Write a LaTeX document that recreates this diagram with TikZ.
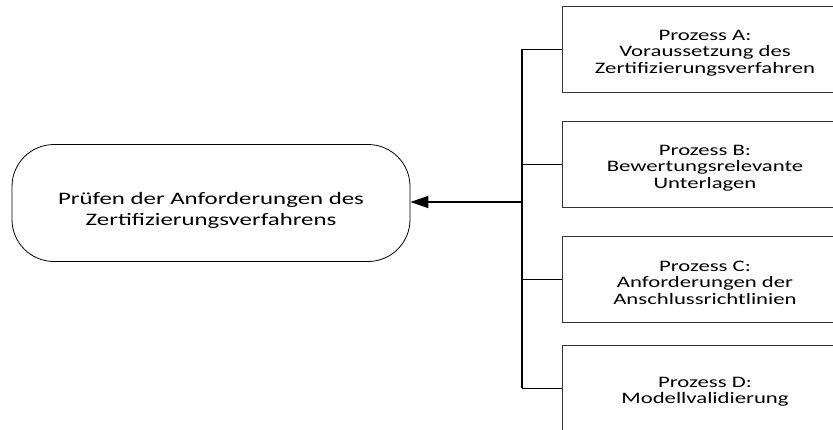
\documentclass[tikz,border=0pt]{standalone}
\usepackage{fontspec}
\setmainfont{Carlito}[FakeStretch=1.42]
\usetikzlibrary{positioning,arrows.meta}
% Strut in der ersten Zeile, schiebt den Text etwas nach unten
\newcommand{\tiefer}[1]{\rule{0pt}{#1}}
\tikzset{prozess/.style={draw=black!80,line width=0.8pt,minimum width=286pt,minimum height=86pt,
           align=center,font=\fontsize{16}{16.5}\selectfont},
         ziel/.style={draw,line width=0.8pt,rounded corners=42pt,minimum width=398pt,
           minimum height=117pt,align=center,font=\fontsize{17.5}{21.5}\selectfont}}

\begin{document}
\begin{tikzpicture}[x=1pt,y=-1pt]
\clip (0,0) rectangle (833,429);
\node[ziel] (ziel) at (211,203) {\tiefer{27pt}Prüfen der Anforderungen des\\Zertifizierungsverfahrens};
\foreach \n/\y/\txt in {a/49/{Prozess A:\\Voraussetzung des\\Zertifizierungsverfahren},
                        b/164/{Prozess B:\\Bewertungsrelevante\\Unterlagen},
                        c/279/{Prozess C:\\Anforderungen der\\Anschlussrichtlinien},
                        d/388/{Prozess D:\\Modellvalidierung}}
  \node[prozess] (\n) at (705,\y) {\tiefer{18pt}\txt};
\coordinate (bus) at (522,202);
% Sammelschiene
\draw[line width=1.8pt] (bus |- a.west) -- (bus |- d.west);
\foreach \n in {a,b,c,d}
  \draw[line width=1pt] (bus |- \n.west) -- (\n.west);
\draw[line width=1.8pt,-{Triangle[length=18pt,width=12pt]}] (bus) -- (bus -| ziel.east);
\end{tikzpicture}
\end{document}
